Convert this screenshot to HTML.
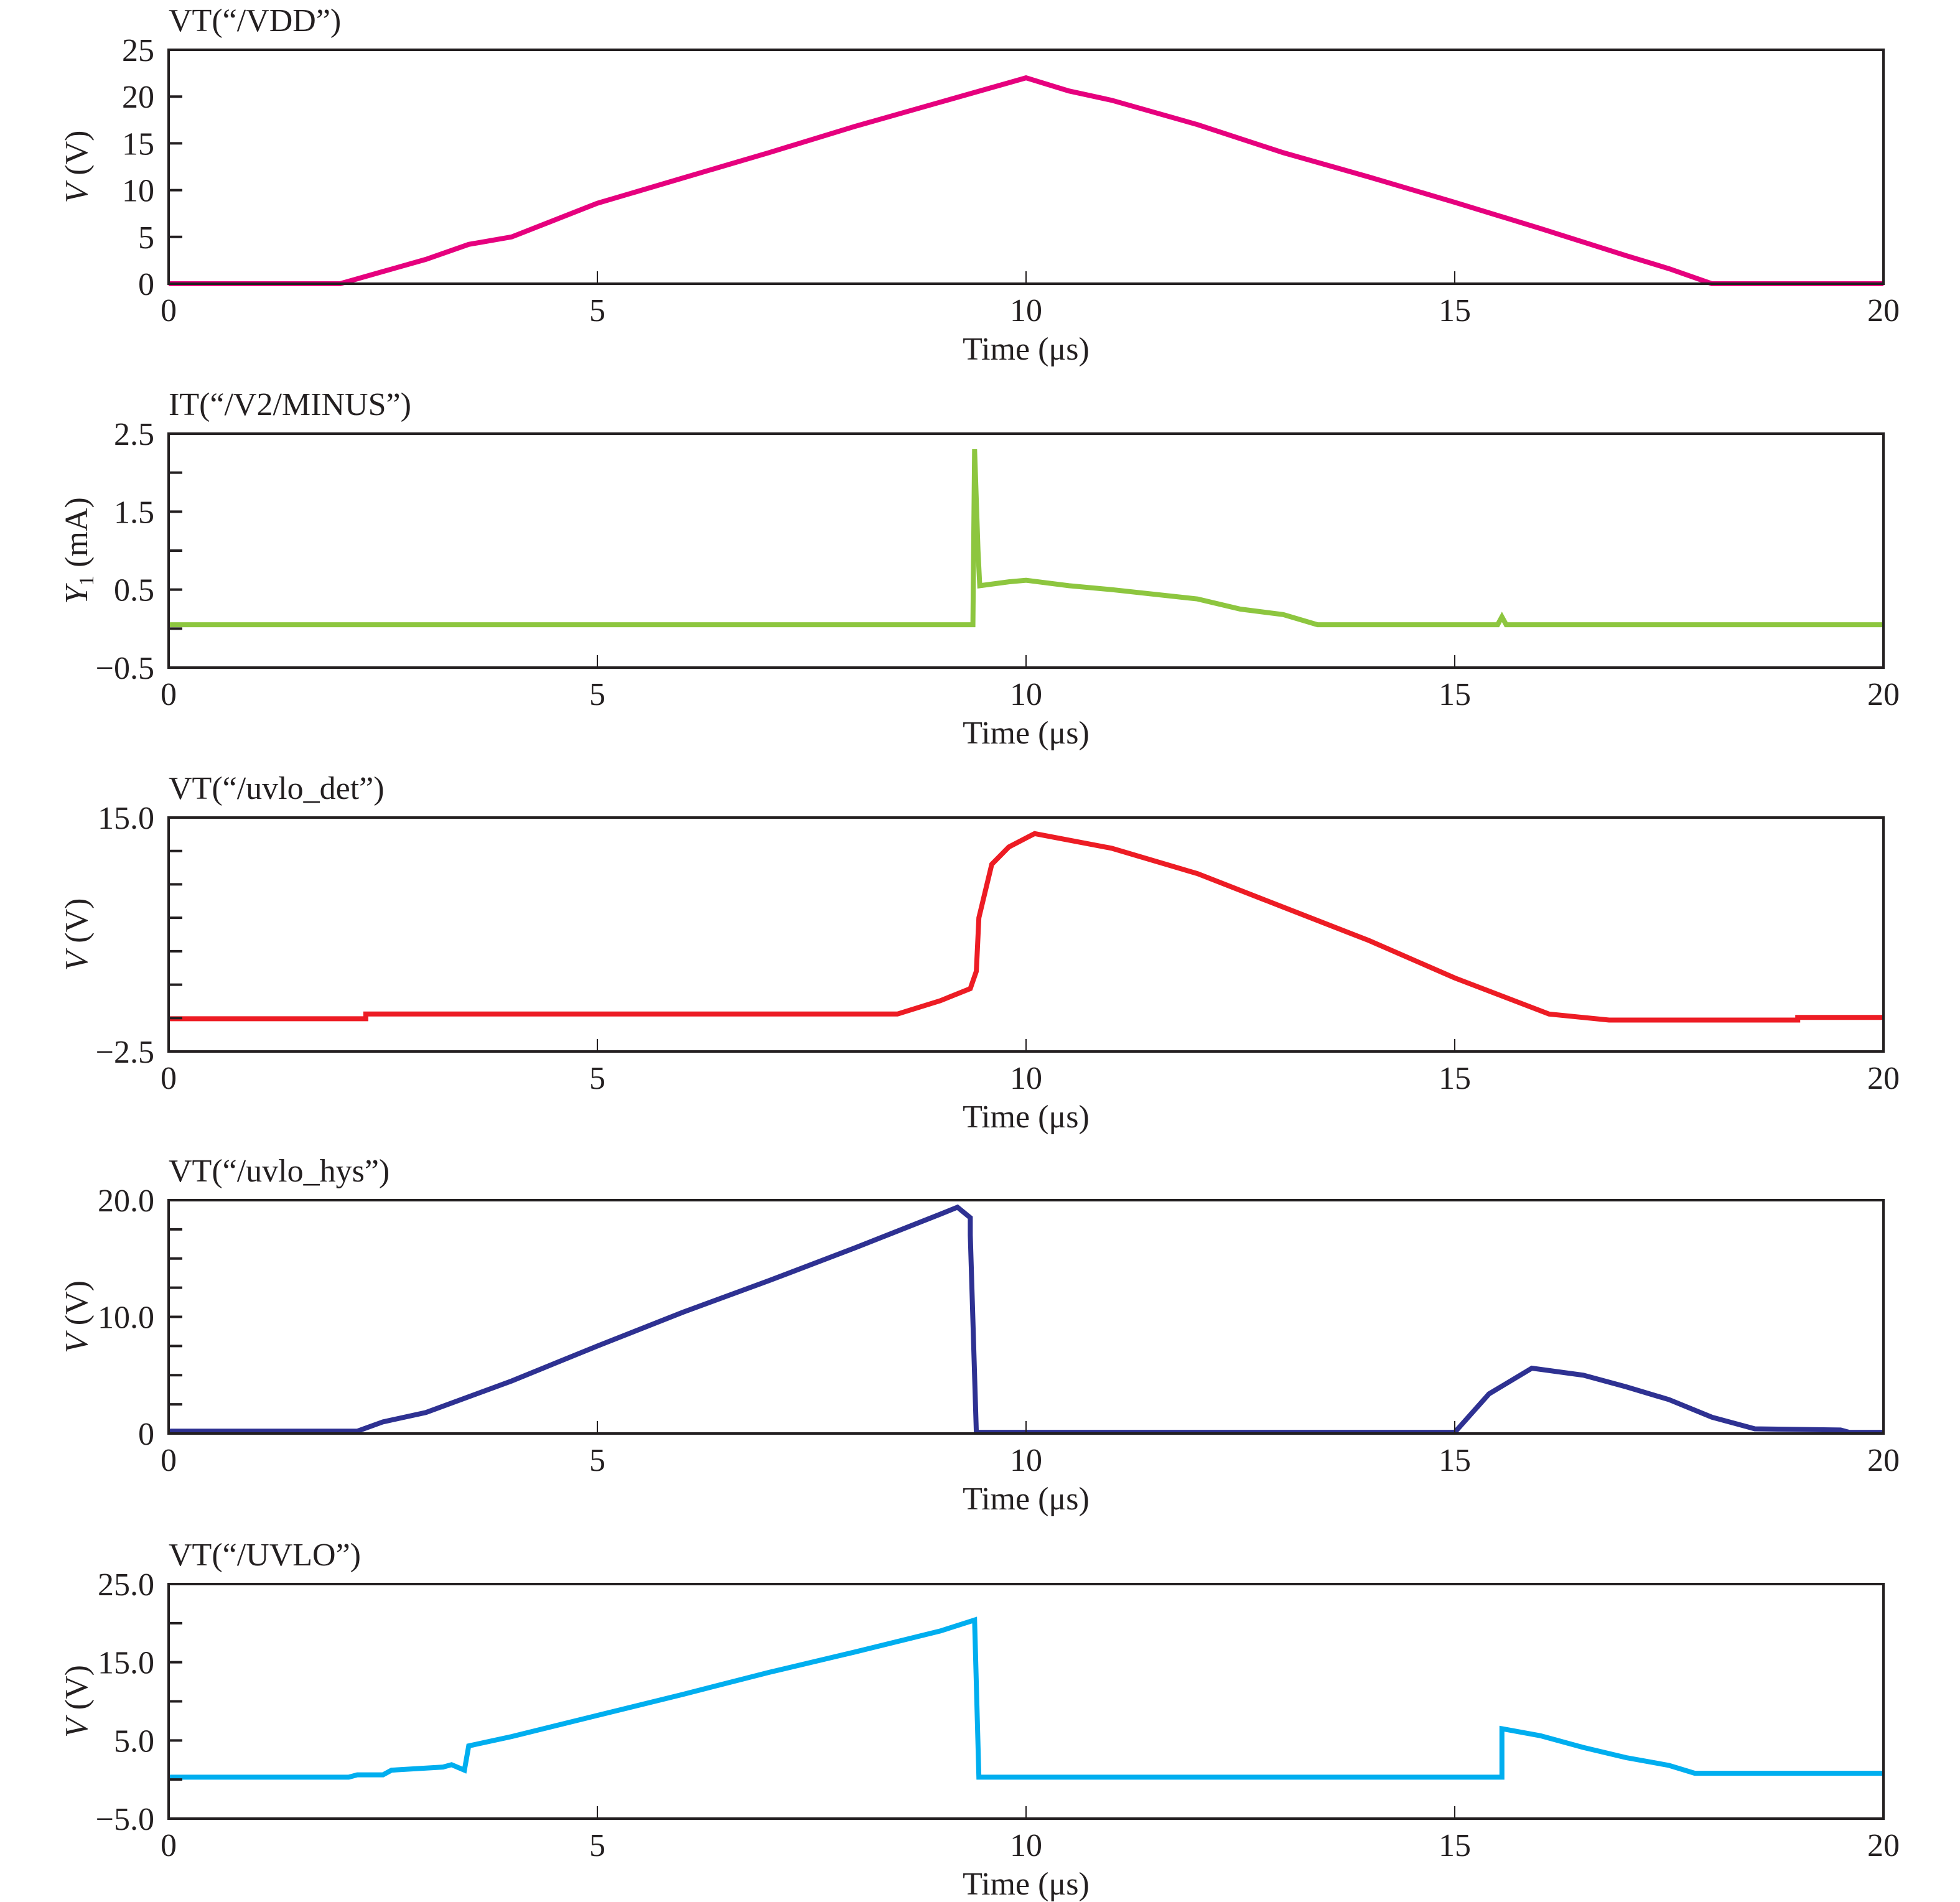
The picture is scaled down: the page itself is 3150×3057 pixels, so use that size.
<!DOCTYPE html>
<html><head><meta charset="utf-8"><style>
html,body{margin:0;padding:0;background:#fff;}
svg{display:block;font-family:"Liberation Serif",serif;}
</style></head><body>
<svg id="chart" width="3150" height="3057" viewBox="0 0 3150 3057" xmlns="http://www.w3.org/2000/svg"></svg>
<script>
// Panel 1: VDD
const vddTime=[0,2.0,2.5,3,3.5,4,5,6,7,8,9,10,10.5,11,12,13,14,15,16,17,17.5,18,20];
const vddValues=[0,0,1.3,2.6,4.2,5,8.6,11.3,14,16.8,19.4,22,20.6,19.6,17,14,11.4,8.7,5.9,3,1.6,0,0];
// Panel 2: current
const curTime=[0,9.38,9.4,9.44,9.46,9.8,10,10.5,11,12,12.5,13,13.4,15.5,15.55,15.6,20];
const curValues=[0.05,0.05,2.3,1.0,0.55,0.6,0.62,0.55,0.5,0.38,0.25,0.18,0.05,0.05,0.15,0.05,0.05];
// Panel 3: uvlo_det
const detTime=[0,2.3,2.3,8.5,9.0,9.35,9.42,9.45,9.6,9.8,10.1,11,12,13,14,15,16.1,16.8,19,19,20];
const detValues=[-0.05,-0.05,0.3,0.3,1.3,2.2,3.5,7.5,11.5,12.8,13.8,12.7,10.8,8.3,5.8,3.0,0.3,-0.15,-0.15,0.05,0.05];
// Panel 4: uvlo_hys
const hysTime=[0,2.2,2.5,3,4,5,6,7,8,9,9.2,9.35,9.35,9.42,15.0,15.4,15.9,16.5,17,17.5,18,18.5,19.5,19.6,20];
const hysValues=[0.2,0.2,1,1.8,4.5,7.5,10.4,13.1,15.9,18.8,19.4,18.5,17,0.1,0.1,3.4,5.6,5,4,2.9,1.4,0.4,0.3,0.1,0.1];
// Panel 5: UVLO
const uvloTime=[0,2.1,2.2,2.5,2.6,3.2,3.3,3.45,3.5,4,5,6,7,8,9,9.4,9.45,15.55,15.55,16,16.5,17,17.5,17.8,20];
const uvloValues=[0.3,0.3,0.6,0.6,1.2,1.6,1.9,1.2,4.3,5.5,8.2,10.9,13.7,16.3,19,20.4,0.3,0.3,6.5,5.6,4.1,2.8,1.8,0.8,0.8];

const xTickLabels=["0","5","10","15","20"];
const panelTitles=["VT(\u201c/VDD\u201d)","IT(\u201c/V2/MINUS\u201d)","VT(\u201c/uvlo_det\u201d)","VT(\u201c/uvlo_hys\u201d)","VT(\u201c/UVLO\u201d)"];
const p1Labels=[0,5,10,15,20,25], p1Ticks=[5,10,15,20];
const p2Labels=[-0.5,0.5,1.5,2.5], p2Ticks=[0,0.5,1,1.5,2];
const p3Labels=[-2.5,15.0], p3Ticks=[0,2.5,5,7.5,10,12.5];
const p4Labels=[0,10.0,20.0], p4Ticks=[2.5,5,7.5,10,12.5,15,17.5];
const p5Labels=[-5.0,5.0,15.0,25.0], p5Ticks=[0,5,10,15,20];

const NS="http://www.w3.org/2000/svg";
const svg=document.getElementById('chart');
const L=271,R=3027;
const panels=[
 {top:80,bot:456,min:0,max:25,t:vddTime,v:vddValues,color:"#e6007e",labels:p1Labels,ticks:p1Ticks,fmt:v=>String(v),yl:"V"},
 {top:697,bot:1073,min:-0.5,max:2.5,t:curTime,v:curValues,color:"#8dc63f",labels:p2Labels,ticks:p2Ticks,fmt:v=>(v<0?"\u2212":"")+Math.abs(v).toFixed(1),yl:"Y"},
 {top:1314,bot:1690,min:-2.5,max:15,t:detTime,v:detValues,color:"#ed1c24",labels:p3Labels,ticks:p3Ticks,fmt:v=>(v<0?"\u2212":"")+Math.abs(v).toFixed(1),yl:"V"},
 {top:1929,bot:2304,min:0,max:20,t:hysTime,v:hysValues,color:"#2e3192",labels:p4Labels,ticks:p4Ticks,fmt:v=>v===0?"0":v.toFixed(1),yl:"V"},
 {top:2546,bot:2923,min:-5,max:25,t:uvloTime,v:uvloValues,color:"#00aeef",labels:p5Labels,ticks:p5Ticks,fmt:v=>(v<0?"\u2212":"")+Math.abs(v).toFixed(1),yl:"V"}
];
function mk(tag,attrs,parent){const e=document.createElementNS(NS,tag);for(const k in attrs)e.setAttribute(k,attrs[k]);(parent||svg).appendChild(e);return e;}
const xs=t=>L+(t/20)*(R-L);
panels.forEach((p,i)=>{
 const g=mk('g',{});
 
 
 const ys=v=>p.bot-(v-p.min)/(p.max-p.min)*(p.bot-p.top);
 let d='';
 p.t.forEach((t,j)=>{d+=(j?'L':'M')+xs(t).toFixed(1)+','+ys(p.v[j]).toFixed(1);});
 const line=mk('path',{d:d,fill:'none',stroke:p.color,'stroke-width':8,'stroke-linejoin':'miter'},g);
 
 
 const fr=mk('rect',{x:L,y:p.top,width:R-L,height:p.bot-p.top,fill:'none',stroke:'#231f20','stroke-width':4},g);
 
 
 p.ticks.forEach(v=>{const tk=mk('line',{x1:L,x2:L+22,y1:ys(v),y2:ys(v),stroke:'#231f20','stroke-width':4},g);
  
  });
 [5,10,15].forEach(t=>{const tk=mk('line',{x1:xs(t),x2:xs(t),y1:p.bot,y2:p.bot-20,stroke:'#231f20','stroke-width':2},g);
  
  });
 p.labels.forEach(v=>{const tx=mk('text',{x:248,y:ys(v)+18,'text-anchor':'end','font-size':52,fill:'#231f20'},g);tx.textContent=p.fmt(v);
  
  });
 xTickLabels.forEach((s,k)=>{const tx=mk('text',{x:xs(k*5),y:p.bot+60,'text-anchor':'middle','font-size':52,fill:'#231f20'},g);tx.textContent=s;
  
  });
 const xt=mk('text',{x:(L+R)/2,y:p.bot+122,'text-anchor':'middle','font-size':52,fill:'#231f20'},g);xt.textContent='Time (\u03bcs)';
 
 
 const tt=mk('text',{x:L,y:p.top-30,'font-size':52,fill:'#231f20'},g);tt.textContent=panelTitles[i];
 
 
 const cy=(p.top+p.bot)/2;
 const yt=mk('text',{x:0,y:0,'text-anchor':'middle','font-size':52,fill:'#231f20',transform:'translate(140,'+cy+') rotate(-90)'},g);
 
 
 const it=mk('tspan',{'font-style':'italic'},yt);it.textContent=p.yl;
 if(p.yl==='Y'){const sb=mk('tspan',{'font-size':34,dy:10},yt);sb.textContent='1';const r=mk('tspan',{dy:-10},yt);r.textContent=' (mA)';}
 else{const r=mk('tspan',{},yt);r.textContent=' (V)';}
});
</script>
</body></html>
